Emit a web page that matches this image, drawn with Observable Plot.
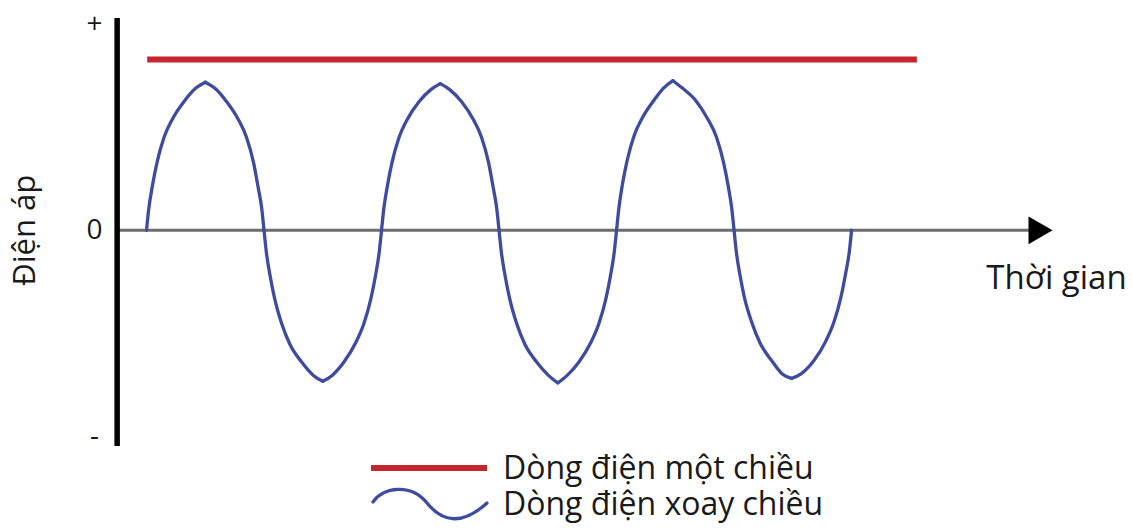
<!DOCTYPE html>
<html>
<head>
<meta charset="utf-8">
<script src="https://cdn.jsdelivr.net/npm/d3@7"></script>
<script src="https://cdn.jsdelivr.net/npm/@observablehq/plot@0.6"></script>
<style>
  html, body { margin: 0; padding: 0; background: #ffffff; }
  #wrap { position: relative; width: 1132px; height: 529px; overflow: hidden; font-family: "Open Sans", sans-serif; color: #1a1a1a; }
  #legend { position: absolute; left: 371px; top: 449px; width: 560px; height: 76px; }
  #legend svg { position: absolute; left: 0; top: 0; }
  .lg { position: absolute; left: 132px; font-size: 32px; line-height: 36px; white-space: nowrap; color: #1a1a1a; }
</style>
</head>
<body>
<div id="wrap">
  <div id="chart"></div>
  <div id="legend">
    <svg width="120" height="76" viewBox="0 0 120 76">
      <line x1="0" y1="19" x2="116" y2="19" stroke="#c3262e" stroke-width="6"/>
      <path d="M2,53 C12,38 40,34 56,54 S92,76 116,54" fill="none" stroke="#3e4b9e" stroke-width="3.3" stroke-linecap="round"/>
    </svg>
    <div class="lg" id="lg1" style="top:0px"></div>
    <div class="lg" id="lg2" style="top:36px"></div>
  </div>
</div>
<script>
// ---- data (time in ms, voltage normalised to AC peak) ----
const seriesNames = ["Dòng điện một chiều", "Dòng điện xoay chiều"];
const axisTitleY = "Điện áp";
const axisTitleX = "Thời gian";

// AC wave
const acTime = [
  0, 0.2, 0.5, 0.9, 1.5, 2.2, 3.2, 4.2, 5.0, 5.8, 6.8, 7.8, 8.5, 9.1, 9.5, 9.8,
  10, 10.2, 10.5, 10.9, 11.5, 12.2, 13.2, 14.2, 15.0, 15.8, 16.8, 17.8, 18.5, 19.1, 19.5, 19.8,
  20, 20.2, 20.5, 20.9, 21.5, 22.2, 23.2, 24.2, 25.0, 25.8, 26.8, 27.8, 28.5, 29.1, 29.5, 29.8,
  30, 30.2, 30.5, 30.9, 31.5, 32.2, 33.2, 34.2, 35.0, 35.8, 36.8, 37.8, 38.5, 39.1, 39.5, 39.8,
  40, 40.2, 40.5, 40.9, 41.5, 42.2, 43.2, 44.0, 44.8, 45.6, 46.7, 47.7, 48.5, 49.1, 49.5, 49.8,
  50, 50.2, 50.5, 50.9, 51.5, 52.2, 53.2, 54.1, 54.9, 55.7, 56.8, 57.8, 58.5, 59.1, 59.5, 59.8,
  60
];
const acVoltage = [
  0, 0.15, 0.30, 0.46, 0.63, 0.75, 0.87, 0.96, 1.00, 0.96, 0.87, 0.75, 0.63, 0.46, 0.29, 0.15,
  0, -0.15, -0.30, -0.46, -0.63, -0.77, -0.89, -0.98, -1.02, -0.98, -0.89, -0.76, -0.63, -0.46, -0.30, -0.15,
  0, 0.15, 0.30, 0.46, 0.63, 0.75, 0.87, 0.95, 0.99, 0.95, 0.87, 0.75, 0.63, 0.46, 0.29, 0.15,
  0, -0.15, -0.30, -0.46, -0.63, -0.77, -0.89, -0.98, -1.03, -0.98, -0.89, -0.76, -0.63, -0.46, -0.30, -0.15,
  0, 0.15, 0.31, 0.47, 0.64, 0.76, 0.88, 0.96, 1.01, 0.96, 0.88, 0.76, 0.63, 0.46, 0.30, 0.15,
  0, -0.15, -0.30, -0.46, -0.62, -0.76, -0.88, -0.97, -1.00, -0.97, -0.88, -0.75, -0.62, -0.45, -0.29, -0.15,
  0
];

// DC level
const dcVoltage = 1.153;
const dcStart = 0.1;
const dcEnd = 65.6;

// axes
const xDomain = [-2.64, 77.1];
const yDomain = [-1.46, 1.43];
const yAxisAt = -2.5;
const xAxisEnd = 75.2;
const arrowAt = 75.74;
const yTickValues = [1.39, 0, -1.39];
const yTickLabels = ["+", "0", "-"];

const colors = { dc: "#c3262e", ac: "#3e4b9e", axis: "#6d6d6d", text: "#1a1a1a" };

// split the wave at its peaks/troughs so each arc meets the next in a sharp tip, as drawn
const n = acTime.length;
const breaks = [0];
for (let i = 1; i < n - 1; i++) {
  const a = Math.abs(acVoltage[i]);
  if (a > 0 && a >= Math.abs(acVoltage[i - 1]) && a >= Math.abs(acVoltage[i + 1])) breaks.push(i);
}
breaks.push(n - 1);
const acData = [];
for (let k = 0; k < breaks.length - 1; k++) {
  for (let i = breaks[k]; i <= breaks[k + 1]; i++) acData.push({ t: acTime[i], v: acVoltage[i], seg: k });
}

const chart = Plot.plot({
  width: 1132,
  height: 455,
  marginLeft: 115,
  marginRight: 80,
  marginTop: 18,
  marginBottom: 9,
  x: { domain: xDomain, axis: null },
  y: { domain: yDomain, axis: null },
  style: { fontFamily: "'Open Sans', sans-serif", background: "white", color: colors.text, overflow: "visible" },
  marks: [
    Plot.ruleY([0], { x1: yAxisAt, x2: xAxisEnd, stroke: colors.axis, strokeWidth: 3 }),
    Plot.dot([arrowAt], { x: d => d, y: 0, symbol: "triangle", rotate: 90, r: 10.3, fill: "black", stroke: "none" }),
    Plot.ruleX([yAxisAt], { y1: yDomain[0], y2: yDomain[1], stroke: "black", strokeWidth: 5.5 }),
    Plot.ruleY([dcVoltage], { x1: dcStart, x2: dcEnd, stroke: colors.dc, strokeWidth: 6 }),
    Plot.line(acData, { x: "t", y: "v", z: "seg", stroke: colors.ac, strokeWidth: 3.3, curve: "monotone-x", strokeLinejoin: "round", strokeLinecap: "round" }),
    Plot.text(yTickValues, { y: d => d, text: (d, i) => yTickLabels[i], frameAnchor: "left", dx: -21, fontSize: 28, textAnchor: "middle", fill: colors.text }),
    Plot.text([axisTitleY], { y: 0, text: d => d, frameAnchor: "left", dx: -90, rotate: -90, fontSize: 31, textAnchor: "middle", fill: colors.text }),
    Plot.text([axisTitleX], { x: xDomain[1], y: 0, text: d => d, dx: 4, dy: 48, fontSize: 33, textAnchor: "middle", fill: colors.text })
  ]
});
document.getElementById("chart").appendChild(chart);
document.getElementById("lg1").textContent = seriesNames[0];
document.getElementById("lg2").textContent = seriesNames[1];
</script>
</body>
</html>
